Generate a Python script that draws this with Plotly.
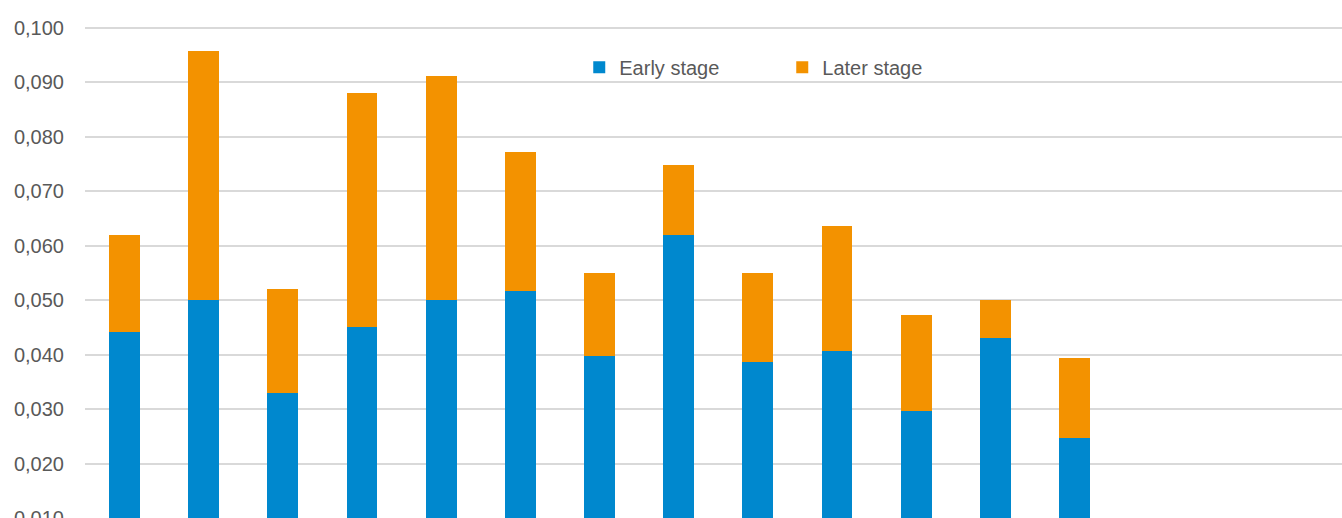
import plotly.graph_objects as go

categories = [str(i) for i in range(1, 14)]
early_stage = [0.0442, 0.0500, 0.0329, 0.0451, 0.0500, 0.0516, 0.0397, 0.0620, 0.0386, 0.0407, 0.0296, 0.0431, 0.0247]
total = [0.0619, 0.0958, 0.0521, 0.0881, 0.0912, 0.0772, 0.0550, 0.0749, 0.0550, 0.0636, 0.0473, 0.0500, 0.0394]
later_stage = [round(t - e, 4) for t, e in zip(total, early_stage)]

BLUE = "#0088CE"
ORANGE = "#F39200"

fig = go.Figure()
fig.add_trace(go.Bar(x=categories, y=early_stage, name="Early stage",
                     marker=dict(color=BLUE, line=dict(width=0))))
fig.add_trace(go.Bar(x=categories, y=later_stage, name="Later stage",
                     marker=dict(color=ORANGE, line=dict(width=0))))

fig.update_layout(
    width=1342, height=518,
    barmode="stack",
    bargap=0.61,
    separators=",.",
    plot_bgcolor="white",
    paper_bgcolor="white",
    font=dict(family="Liberation Sans, Arial, sans-serif", size=20, color="#595959"),
    margin=dict(l=85, r=0, t=20, b=0, autoexpand=False),
    showlegend=True,
    legend=dict(orientation="h", x=0.3932, xanchor="left", y=0.905, yanchor="middle",
                font=dict(size=20, color="#595959"), entrywidth=158, traceorder="normal",
                bgcolor="rgba(0,0,0,0)"),
    xaxis=dict(type="category", range=[-0.5, 15.38], showticklabels=False, showgrid=False,
               zeroline=False, showline=False, ticks="", automargin=False),
    yaxis=dict(range=[0.00999, 0.10147], tickformat=".3f", dtick=0.01, tick0=0,
               showgrid=True, gridcolor="#D9D9D9", gridwidth=1.5, zeroline=False,
               showline=False, ticks="", ticklabelstandoff=20, ticklabeloverflow="allow",
               automargin=False),
)

fig.write_html(
    "out.html",
    config={"displayModeBar": False},
    post_script="document.body.style.margin='0';document.body.style.overflow='hidden';",
)
